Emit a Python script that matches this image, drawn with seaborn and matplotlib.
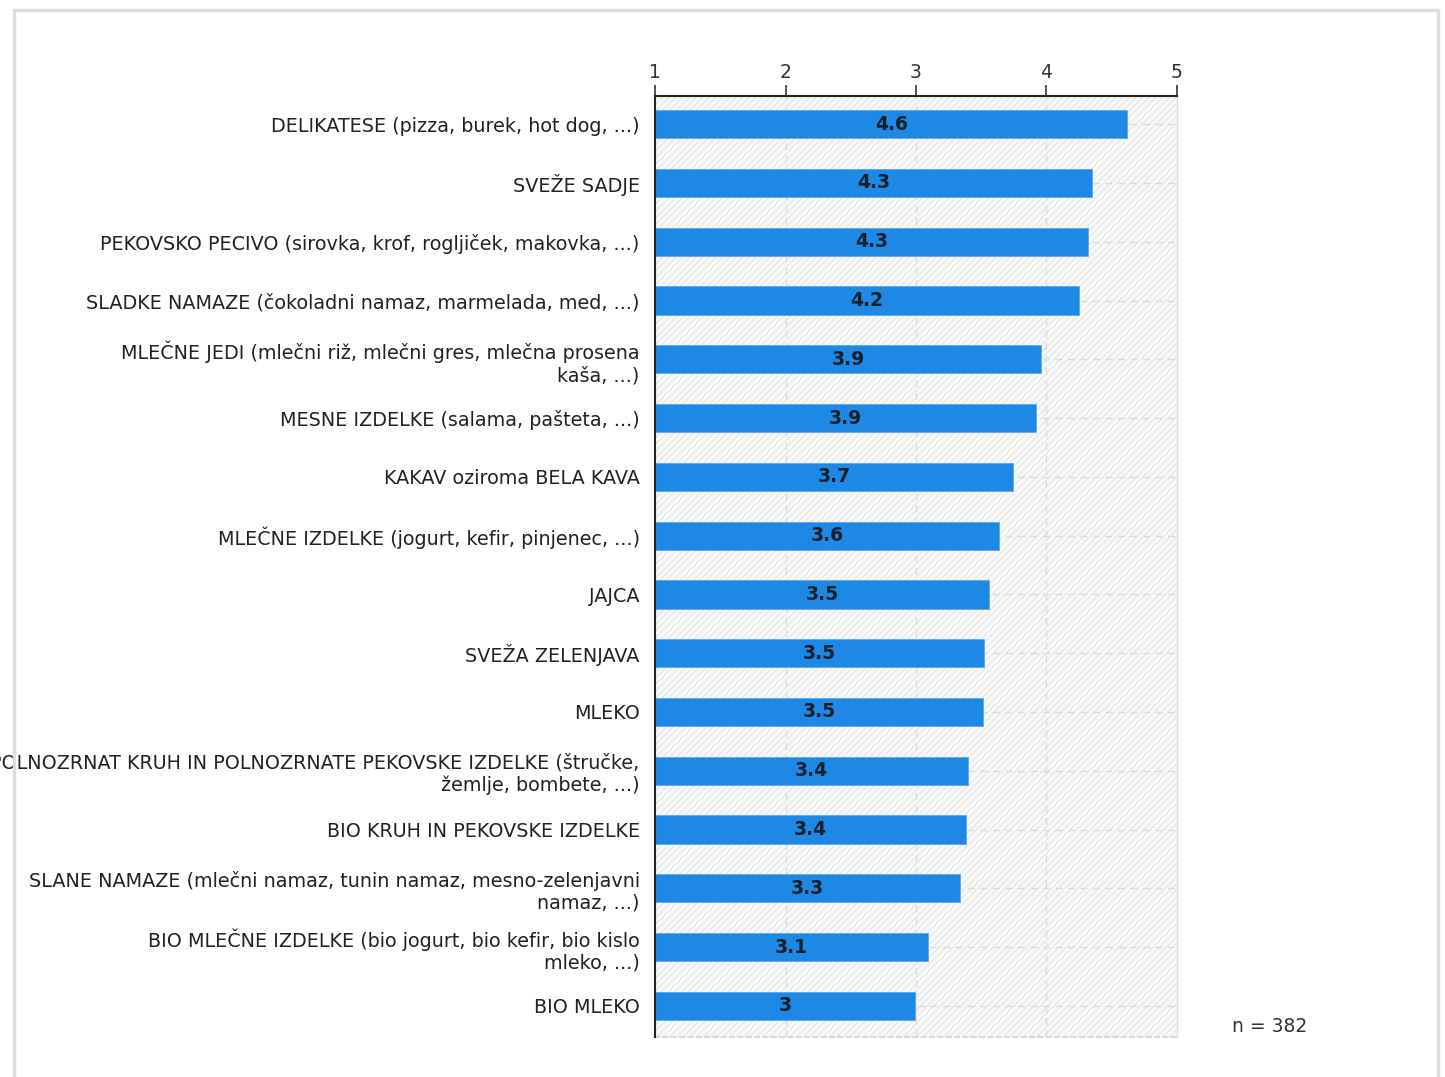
import matplotlib
matplotlib.use('Agg')
import matplotlib.pyplot as plt
import seaborn as sns
import pandas as pd
from matplotlib.patches import Rectangle

categories = [
    'DELIKATESE (pizza, burek, hot dog, ...)',
    'SVEŽE SADJE',
    'PEKOVSKO PECIVO (sirovka, krof, rogljiček, makovka, ...)',
    'SLADKE NAMAZE (čokoladni namaz, marmelada, med, ...)',
    'MLEČNE JEDI (mlečni riž, mlečni gres, mlečna prosena\nkaša, ...)',
    'MESNE IZDELKE (salama, pašteta, ...)',
    'KAKAV oziroma BELA KAVA',
    'MLEČNE IZDELKE (jogurt, kefir, pinjenec, ...)',
    'JAJCA',
    'SVEŽA ZELENJAVA',
    'MLEKO',
    'POLNOZRNAT KRUH IN POLNOZRNATE PEKOVSKE IZDELKE (štručke,\nžemlje, bombete, ...)',
    'BIO KRUH IN PEKOVSKE IZDELKE',
    'SLANE NAMAZE (mlečni namaz, tunin namaz, mesno-zelenjavni\nnamaz, ...)',
    'BIO MLEČNE IZDELKE (bio jogurt, bio kefir, bio kislo\nmleko, ...)',
    'BIO MLEKO',
]
values = [4.62, 4.35, 4.32, 4.25, 3.96, 3.92, 3.74, 3.64, 3.56, 3.52, 3.51,
          3.40, 3.38, 3.34, 3.09, 2.99]
value_labels = ['4.6', '4.3', '4.3', '4.2', '3.9', '3.9', '3.7', '3.6', '3.5',
                '3.5', '3.5', '3.4', '3.4', '3.3', '3.1', '3']
x_ticks = [1, 2, 3, 4, 5]
n_text = 'n = 382'

BAR_COLOR = '#1e88e5'
GRID_COLOR = '#dcdcdc'

sns.set_style('white')
plt.rcParams['font.family'] = ['DejaVu Sans']
plt.rcParams['hatch.linewidth'] = 0.7
plt.rcParams['hatch.color'] = '#e2e2e2'

df = pd.DataFrame({'category': categories, 'value': values})

fig = plt.figure(figsize=(14.45, 10.77), dpi=100)
ax = fig.add_axes([0.4533, 0.0371, 0.8145 - 0.4533, 0.9109 - 0.0371])

# hatched plot background
ax.add_patch(Rectangle((0, 0), 1, 1, transform=ax.transAxes, facecolor='#f8f8f8',
                       edgecolor='#e2e2e2', hatch='/////', lw=0, zorder=0))

sns.barplot(data=df, x='value', y='category', orient='h', color=BAR_COLOR,
            saturation=1, width=0.48, edgecolor='#5aa8ee', linewidth=0.6,
            ax=ax, zorder=3)

ax.set_xlim(1, 5)
ax.set_ylim(len(categories) - 0.47, -0.48)
ax.set_xticks(x_ticks)
ax.set_xticklabels([str(t) for t in x_ticks])
ax.xaxis.tick_top()
ax.set_xlabel('')
ax.set_ylabel('')

ax.tick_params(axis='x', direction='out', length=8, width=1.2, color='#333333',
               labelsize=13.5, labelcolor='#333333', pad=2)
ax.tick_params(axis='y', direction='out', length=5, width=1.2, color='#555555',
               labelsize=13.8, labelcolor='#222222', pad=6)

# dashed grid lines behind the bars
for t in x_ticks[1:-1]:
    ax.axvline(t, color=GRID_COLOR, ls=(0, (5, 4)), lw=1, zorder=1)
for i in range(len(categories)):
    ax.axhline(i, color=GRID_COLOR, ls=(0, (5, 4)), lw=1, zorder=1)

for side in ['top', 'left']:
    ax.spines[side].set_color('#222222')
    ax.spines[side].set_linewidth(1.5)
ax.spines['right'].set_color('#e0e0e0')
ax.spines['right'].set_linewidth(1)
ax.spines['bottom'].set_color('#d8d8d8')
ax.spines['bottom'].set_linestyle((0, (2, 2)))
ax.spines['bottom'].set_linewidth(1.5)
ax.spines['left'].set_zorder(5)

for i, (v, lab) in enumerate(zip(values, value_labels)):
    ax.text((1 + v) / 2, i, lab, ha='center', va='center', fontsize=13.5,
            color='#14202c', fontweight='semibold', zorder=6)

fig.text(1270 / 1445, 1 - 1027 / 1077, n_text, ha='center', va='center',
         fontsize=13.5, color='#333333')

# light outer frame
fig.patches.append(Rectangle((14 / 1445, -0.01), (1438 - 14) / 1445, 1 - 10 / 1077 + 0.01,
                             transform=fig.transFigure, fill=False,
                             edgecolor='#dddddd', lw=2.5, zorder=0))

fig.savefig('out.png', dpi=100)
